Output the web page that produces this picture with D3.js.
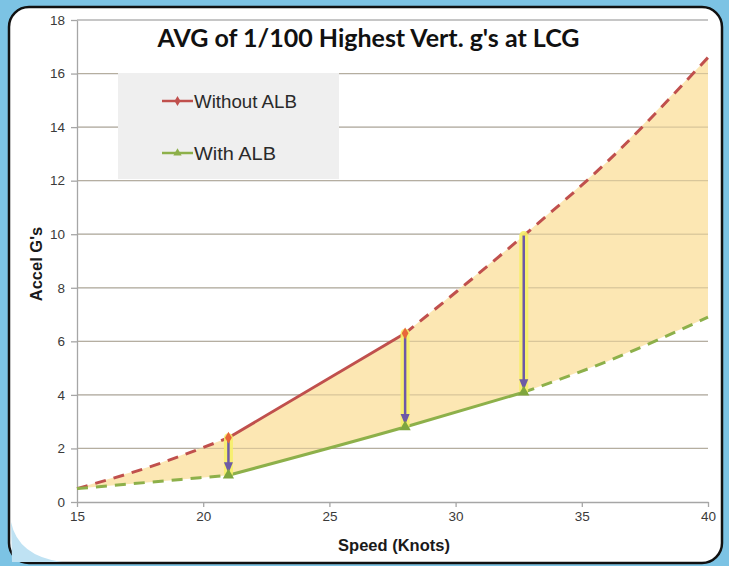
<!DOCTYPE html>
<html>
<head>
<meta charset="utf-8">
<script src="https://cdn.jsdelivr.net/npm/d3@7"></script>
<style>
  html, body { margin: 0; padding: 0; background: #7cc3e4; }
  svg { display: block; }
</style>
</head>
<body>
<svg id="chart" width="729" height="566"></svg>
<script>
// measured points (knots, g)
var withoutSpeed = [21, 28];
var withoutG = [2.4, 6.3];
var withSpeed = [21, 28, 32.7];
var withG = [1.0, 2.8, 4.1];

// dashed extrapolations
var withoutTrendLowX = [15, 18, 21];
var withoutTrendLowY = [0.5, 1.35, 2.4];
var withoutTrendHighX = [28, 32.7, 36, 40];
var withoutTrendHighY = [6.3, 9.95, 12.7, 16.6];
var withTrendLowX = [15, 18, 21];
var withTrendLowY = [0.5, 0.75, 1.0];
var withTrendHighX = [32.7, 36, 40];
var withTrendHighY = [4.1, 5.25, 6.9];

// reduction arrows
var arrowSpeed = [21, 28, 32.7];
var arrowFrom = [2.4, 6.3, 9.95];
var arrowTo = [1.0, 2.8, 4.1];

var xTicks = [15, 20, 25, 30, 35, 40];
var yTicks = [0, 2, 4, 6, 8, 10, 12, 14, 16, 18];

var red = "#c0504d", green = "#8db04a";
var font = "Liberation Sans, Arial, sans-serif";

var svg = d3.select("#chart");

// panel
svg.append("rect")
    .attr("x", 9).attr("y", 7).attr("width", 713).attr("height", 556)
    .attr("rx", 20).attr("ry", 20)
    .attr("fill", "#fff").attr("stroke", "#111").attr("stroke-width", 2.5);
// light blue swoosh bottom-left
svg.append("path")
    .attr("d", "M11,522 Q18,556 62,562 L12,562 Z")
    .attr("fill", "#bfe2f3");

var x = d3.scaleLinear().domain([15, 40]).range([77, 708]);
var y = d3.scaleLinear().domain([0, 18]).range([502, 20]);

// gridlines
svg.append("g").selectAll("line")
    .data(yTicks.filter(d => d > 0))
    .join("line")
    .attr("x1", x(15)).attr("x2", x(40))
    .attr("y1", d => y(d)).attr("y2", d => y(d))
    .attr("stroke", "#b3b3b3").attr("stroke-width", 1.3);

function pts(xs, ys) { return xs.map((v, i) => [v, ys[i]]); }

var upper = pts(withoutTrendLowX, withoutTrendLowY)
    .concat(pts(withoutSpeed, withoutG).slice(1))
    .concat(pts(withoutTrendHighX, withoutTrendHighY).slice(1));
var lower = pts(withTrendLowX, withTrendLowY)
    .concat(pts(withSpeed, withG).slice(1))
    .concat(pts(withTrendHighX, withTrendHighY).slice(1));

// shaded band between series
var allX = Array.from(new Set(upper.map(d => d[0]).concat(lower.map(d => d[0])))).sort((a, b) => a - b);
function interp(arr, v) {
    for (var i = 0; i < arr.length - 1; i++) {
        if (v >= arr[i][0] && v <= arr[i + 1][0]) {
            var t = (v - arr[i][0]) / (arr[i + 1][0] - arr[i][0]);
            return arr[i][1] + t * (arr[i + 1][1] - arr[i][1]);
        }
    }
    return arr[arr.length - 1][1];
}
var band = allX.map(v => ({ s: v, hi: interp(upper, v), lo: interp(lower, v) }));
svg.append("path")
    .datum(band)
    .attr("d", d3.area().x(d => x(d.s)).y0(d => y(d.lo)).y1(d => y(d.hi)))
    .attr("fill", "#fbe3a6").attr("opacity", 0.85);

// gridlines show through the fill
svg.append("g").selectAll("line")
    .data(yTicks.filter(d => d > 0 && d < 18))
    .join("line")
    .attr("x1", x(15)).attr("x2", x(40))
    .attr("y1", d => y(d)).attr("y2", d => y(d))
    .attr("stroke", "#b8a98a").attr("stroke-width", 1).attr("opacity", 0.5);

// axes
var xAxis = svg.append("g").attr("transform", "translate(0," + y(0) + ")")
    .call(d3.axisBottom(x).tickValues(xTicks).tickSize(5).tickSizeOuter(0).tickPadding(4));
var yAxis = svg.append("g").attr("transform", "translate(" + x(15) + ",0)")
    .call(d3.axisLeft(y).tickValues(yTicks).tickSize(6).tickSizeOuter(0).tickPadding(6));
[xAxis, yAxis].forEach(function (g) {
    g.select(".domain").attr("stroke", "#a6a6a6").attr("stroke-width", 1.3);
    g.selectAll(".tick line").attr("stroke", "#a6a6a6").attr("stroke-width", 1.3);
    g.selectAll("text").attr("font-family", font)
        .attr("font-size", 13.5).attr("fill", "#3a3a3a");
});

var line = d3.line().x(d => x(d[0])).y(d => y(d[1])).curve(d3.curveMonotoneX);

// dashed trends
[[pts(withoutTrendLowX, withoutTrendLowY), red], [pts(withoutTrendHighX, withoutTrendHighY), red],
 [pts(withTrendLowX, withTrendLowY), green], [pts(withTrendHighX, withTrendHighY), green]]
    .forEach(function (s) {
        svg.append("path").datum(s[0]).attr("d", line)
            .attr("fill", "none").attr("stroke", s[1]).attr("stroke-width", 3)
            .attr("stroke-dasharray", "11,8");
    });

// solid measured lines
svg.append("path").datum(pts(withoutSpeed, withoutG)).attr("d", line)
    .attr("fill", "none").attr("stroke", red).attr("stroke-width", 3);
svg.append("path").datum(pts(withSpeed, withG)).attr("d", line)
    .attr("fill", "none").attr("stroke", green).attr("stroke-width", 3);

// arrows
var arrows = svg.append("g");
arrowSpeed.forEach(function (s, i) {
    var x0 = x(s), y0 = y(arrowFrom[i]), y1 = y(arrowTo[i]);
    arrows.append("line").attr("x1", x0).attr("x2", x0).attr("y1", y0).attr("y2", y1 - 2)
        .attr("stroke", "#f7f06a").attr("stroke-width", 9).attr("stroke-linecap", "round").attr("opacity", 0.9);
    arrows.append("line").attr("x1", x0).attr("x2", x0).attr("y1", y0).attr("y2", y1 - 8)
        .attr("stroke", "#6d5aa6").attr("stroke-width", 2.5);
    arrows.append("path")
        .attr("d", "M" + (x0 - 4.5) + "," + (y1 - 13) + " L" + x0 + "," + (y1 - 2) + " L" + (x0 + 4.5) + "," + (y1 - 13) + " Z")
        .attr("fill", "#6d5aa6");
});

// markers
svg.append("g").selectAll("path")
    .data(pts(withoutSpeed, withoutG))
    .join("path")
    .attr("transform", d => "translate(" + x(d[0]) + "," + y(d[1]) + ")")
    .attr("d", d3.symbol(d3.symbolDiamond, 40))
    .attr("fill", "#e8663a");
svg.append("g").selectAll("path")
    .data(pts(withSpeed, withG))
    .join("path")
    .attr("transform", d => "translate(" + x(d[0]) + "," + y(d[1]) + ")")
    .attr("d", d3.symbol(d3.symbolTriangle, 55))
    .attr("fill", "#7fa63e");

// legend
var leg = svg.append("g");
leg.append("rect").attr("x", 118).attr("y", 73).attr("width", 221).attr("height", 106).attr("fill", "#efefef");
var legItems = [["Without ALB", red, d3.symbolDiamond, 101], ["With ALB", green, d3.symbolTriangle, 153]];
legItems.forEach(function (it) {
    leg.append("line").attr("x1", 162).attr("x2", 193).attr("y1", it[3]).attr("y2", it[3])
        .attr("stroke", it[1]).attr("stroke-width", 2.5);
    leg.append("path").attr("transform", "translate(177.5," + it[3] + ")")
        .attr("d", d3.symbol(it[2], 30)).attr("fill", it[1]);
    leg.append("text").attr("x", 194).attr("y", it[3] + 6.5)
        .attr("font-family", font).attr("font-size", 18.5)
        .attr("textLength", 103).attr("lengthAdjust", "spacingAndGlyphs")
        .attr("fill", "#2a2a2a").text(it[0]);
});
leg.selectAll("text").filter((d, i) => i === 1).attr("textLength", 82);

// title and axis labels
svg.append("text").attr("x", 368.5).attr("y", 47).attr("text-anchor", "middle")
    .attr("font-family", "Lato, sans-serif").attr("font-weight", "bold").attr("font-size", 25)
    .attr("fill", "#111").text("AVG of 1/100 Highest Vert. g's at LCG");
svg.append("text").attr("x", 394).attr("y", 551).attr("text-anchor", "middle")
    .attr("font-family", font).attr("font-weight", "bold").attr("font-size", 16.5)
    .attr("fill", "#1a1a1a").text("Speed (Knots)");
svg.append("text").attr("transform", "translate(42,264) rotate(-90)").attr("text-anchor", "middle")
    .attr("font-family", font).attr("font-weight", "bold").attr("font-size", 16.5)
    .attr("fill", "#1a1a1a").text("Accel G's");
</script>
</body>
</html>
